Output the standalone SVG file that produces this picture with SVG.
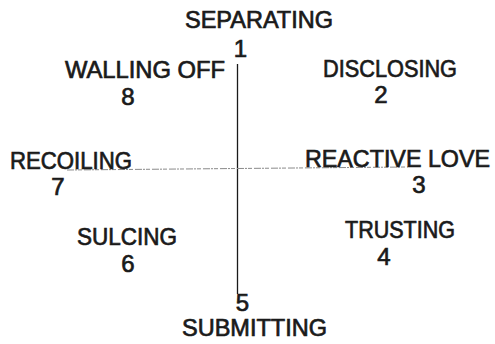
<svg xmlns="http://www.w3.org/2000/svg" width="495" height="344" viewBox="0 0 495 344">
<style>
text{font-family:"Liberation Sans",Arial,sans-serif;font-size:24px;fill:#1a1a1a;stroke:#1a1a1a;stroke-width:0.7}
.n{text-anchor:middle}
.axis{stroke:#1a1a1a;stroke-width:1.3;fill:none}
.dot{stroke:#8a8a8a;stroke-width:1;stroke-dasharray:7 1 2 1 4 2;fill:none}
</style>
<rect width="495" height="344" fill="#fff"/>
<g id="connectors">
<line class="axis" x1="237.5" y1="64" x2="237.5" y2="294"/>
<line class="dot" x1="67" y1="170" x2="408" y2="167"/>
</g>
<g id="node1"><text x="185" y="28" textLength="148" lengthAdjust="spacingAndGlyphs">SEPARATING</text><text class="n" x="240.5" y="57">1</text></g>
<g id="node2"><text x="323" y="77" textLength="134" lengthAdjust="spacingAndGlyphs">DISCLOSING</text><text class="n" x="381" y="103">2</text></g>
<g id="node3"><text x="305" y="167" textLength="185" lengthAdjust="spacingAndGlyphs">REACTIVE  LOVE</text><text class="n" x="419" y="193">3</text></g>
<g id="node4"><text x="345" y="238" textLength="110" lengthAdjust="spacingAndGlyphs">TRUSTING</text><text class="n" x="384" y="265">4</text></g>
<g id="node5"><text class="n" x="242.5" y="311">5</text><text x="182" y="336" textLength="145" lengthAdjust="spacingAndGlyphs">SUBMITTING</text></g>
<g id="node6"><text x="77" y="245" textLength="100" lengthAdjust="spacingAndGlyphs">SULCING</text><text class="n" x="128" y="272">6</text></g>
<g id="node7"><text x="10" y="169" textLength="122" lengthAdjust="spacingAndGlyphs">RECOILING</text><text class="n" x="58" y="195">7</text></g>
<g id="node8"><text x="65" y="78" textLength="160" lengthAdjust="spacingAndGlyphs">WALLING  OFF</text><text class="n" x="128" y="105">8</text></g>
</svg>
